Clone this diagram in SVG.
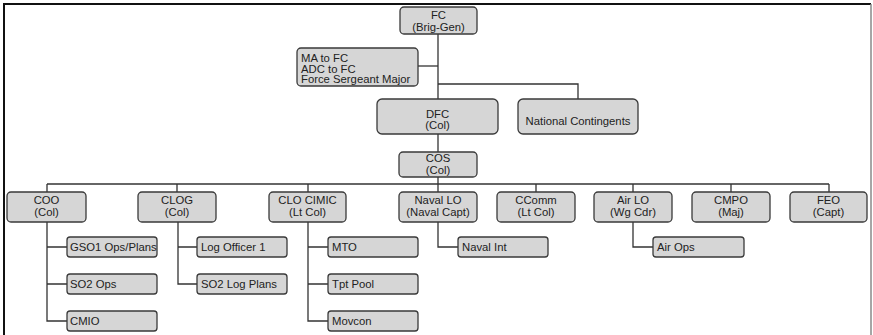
<svg xmlns="http://www.w3.org/2000/svg" width="873" height="335" viewBox="0 0 873 335">
<style>
.box{fill:#d6d6d6;stroke:#3a3a3a;stroke-width:1.3}
.t{font-family:"Liberation Sans",Arial,sans-serif;font-size:11.3px;fill:#222}
.c{text-anchor:middle}
.ln{fill:none;stroke:#333;stroke-width:1.3}
</style>
<rect x="0" y="0" width="873" height="335" fill="#fff"/>
<g id="frame">
<path d="M4 335 V4 H871" fill="none" stroke="#111" stroke-width="2"/>
<path d="M871 4 V335" fill="none" stroke="#888" stroke-width="1.5"/>
</g>
<g id="connectors" class="ln">
<path d="M438 34 V99"/>
<path d="M418 66 H438"/>
<path d="M438 84 H578 V99"/>
<path d="M438 134 V152"/>
<path d="M438 177 V192"/>
<path d="M47 184 H829"/>
<path d="M47 184 V192 M177 184 V192 M308 184 V192 M536 184 V192 M633 184 V192 M731 184 V192 M829 184 V192"/>
<path d="M47 222 V321 H67 M47 247 H67 M47 284 H67"/>
<path d="M178 222 V284 H197 M178 247 H197"/>
<path d="M308 222 V321 H328 M308 247 H328 M308 284 H328"/>
<path d="M438 222 V247 H458"/>
<path d="M633 222 V247 H653"/>
</g>
<g id="fc"><rect class="box" x="400" y="7" width="77" height="27" rx="4"/><text class="t c" x="438.5" y="19">FC</text><text class="t c" x="438.5" y="31">(Brig-Gen)</text></g>
<g id="ma"><rect class="box" x="297" y="48" width="121" height="38" rx="4"/><text class="t" x="301" y="62">MA to FC</text><text class="t" x="301" y="72.5">ADC to FC</text><text class="t" x="301" y="83">Force Sergeant Major</text></g>
<g id="dfc"><rect class="box" x="377" y="99" width="121" height="35" rx="5"/><text class="t c" x="437.5" y="118">DFC</text><text class="t c" x="437.5" y="129">(Col)</text></g>
<g id="nc"><rect class="box" x="518" y="99" width="120" height="35" rx="5"/><text class="t c" x="578" y="125">National Contingents</text></g>
<g id="cos"><rect class="box" x="399" y="152" width="78" height="25" rx="4"/><text class="t c" x="438" y="162">COS</text><text class="t c" x="438" y="174">(Col)</text></g>
<g id="coo"><rect class="box" x="7" y="192" width="79" height="30" rx="4"/><text class="t c" x="46.5" y="204">COO</text><text class="t c" x="46.5" y="216">(Col)</text></g>
<g id="clog"><rect class="box" x="138" y="192" width="78" height="30" rx="4"/><text class="t c" x="177" y="204">CLOG</text><text class="t c" x="177" y="216">(Col)</text></g>
<g id="clocimic"><rect class="box" x="269" y="192" width="77" height="30" rx="4"/><text class="t c" x="307.5" y="204">CLO CIMIC</text><text class="t c" x="307.5" y="216">(Lt Col)</text></g>
<g id="navallo"><rect class="box" x="399" y="192" width="78" height="30" rx="4"/><text class="t c" x="438" y="204">Naval LO</text><text class="t c" x="438" y="216">(Naval Capt)</text></g>
<g id="ccomm"><rect class="box" x="497" y="192" width="78" height="30" rx="4"/><text class="t c" x="536" y="204">CComm</text><text class="t c" x="536" y="216">(Lt Col)</text></g>
<g id="airlo"><rect class="box" x="594" y="192" width="78" height="30" rx="4"/><text class="t c" x="633" y="204">Air LO</text><text class="t c" x="633" y="216">(Wg Cdr)</text></g>
<g id="cmpo"><rect class="box" x="692" y="192" width="78" height="30" rx="4"/><text class="t c" x="731" y="204">CMPO</text><text class="t c" x="731" y="216">(Maj)</text></g>
<g id="feo"><rect class="box" x="790" y="192" width="77" height="30" rx="4"/><text class="t c" x="828.5" y="204">FEO</text><text class="t c" x="828.5" y="216">(Capt)</text></g>
<g id="gso1"><rect class="box" x="67" y="237" width="90" height="20" rx="3"/><text class="t" x="70" y="251">GSO1 Ops/Plans</text></g>
<g id="so2ops"><rect class="box" x="67" y="274" width="90" height="20" rx="3"/><text class="t" x="70" y="288">SO2 Ops</text></g>
<g id="cmio"><rect class="box" x="67" y="311" width="90" height="20" rx="3"/><text class="t" x="70" y="325">CMIO</text></g>
<g id="logofficer1"><rect class="box" x="197" y="237" width="90" height="20" rx="3"/><text class="t" x="201" y="251">Log Officer 1</text></g>
<g id="so2logplans"><rect class="box" x="197" y="274" width="90" height="20" rx="3"/><text class="t" x="201" y="288">SO2 Log Plans</text></g>
<g id="mto"><rect class="box" x="328" y="237" width="90" height="20" rx="3"/><text class="t" x="332" y="251">MTO</text></g>
<g id="tptpool"><rect class="box" x="328" y="274" width="90" height="20" rx="3"/><text class="t" x="332" y="288">Tpt Pool</text></g>
<g id="movcon"><rect class="box" x="328" y="311" width="90" height="20" rx="3"/><text class="t" x="332" y="325">Movcon</text></g>
<g id="navalint"><rect class="box" x="458" y="237" width="90" height="20" rx="3"/><text class="t" x="462" y="251">Naval Int</text></g>
<g id="airops"><rect class="box" x="653" y="237" width="91" height="20" rx="3"/><text class="t" x="657" y="251">Air Ops</text></g>
</svg>
